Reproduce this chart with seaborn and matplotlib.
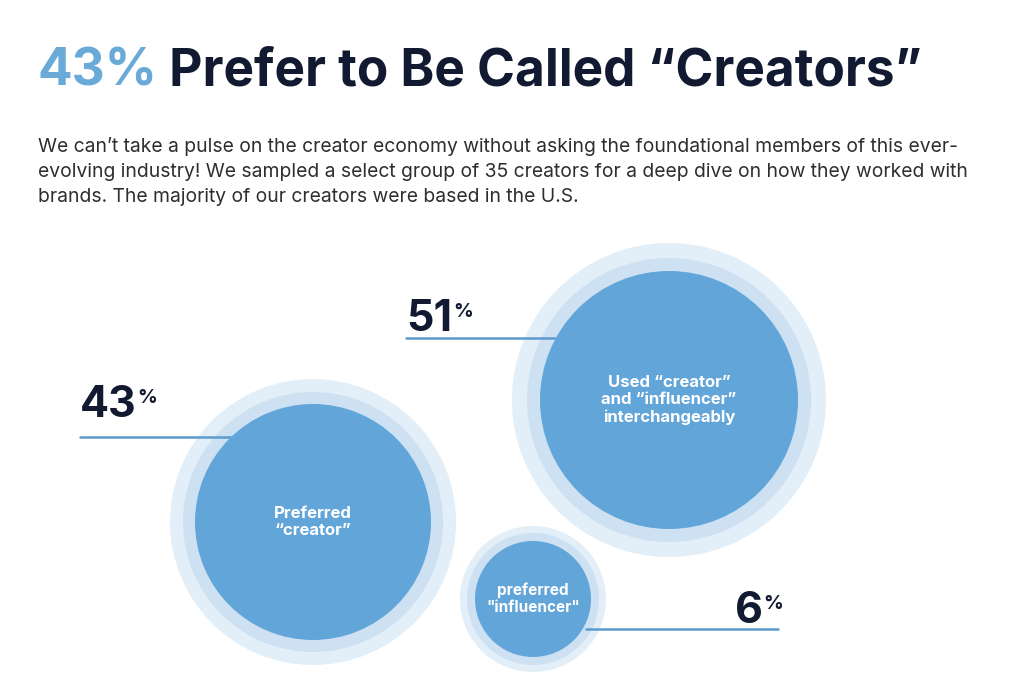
import pandas as pd
import seaborn as sns
import matplotlib.pyplot as plt

# data
labels = ["Preferred\n\u201ccreator\u201d",
          "Used \u201ccreator\u201d\nand \u201cinfluencer\u201d\ninterchangeably",
          "preferred\n\"influencer\""]
values = [43, 51, 6]

# layout (pixel space of the 1014x688 canvas)
bubble_x = [313, 669, 533]
bubble_y = [522, 400, 599]
radius_in = [118, 129, 58]
radius_mid = [130, 142, 66]
radius_out = [143, 157, 73]
num_x = [80, 406, 735]
num_y = [417, 331, 623]
line_y = [437, 338, 629]
line_x0 = [80, 406, 586]
line_x1 = [232, 556, 778]

title_blue = "#6aaad9"
navy = "#121a31"
bubble = "#62a5d9"

sns.set_theme(style="white")
plt.rcParams["font.family"] = ["Inter", "DejaVu Sans"]

fig = plt.figure(figsize=(10.14, 6.88), dpi=100)
ax = fig.add_axes([0, 0, 1, 1])

df = pd.DataFrame({"label": labels, "value": values, "x": bubble_x, "y": bubble_y})


def area(r):
    # radius in pixels -> scatter size in points^2 (dpi 100)
    return (2 * r * 0.72) ** 2


for radii, col, z in [(radius_out, "#e2eef8", 1), (radius_mid, "#cde1f2", 2)]:
    sns.scatterplot(data=df, x="x", y="y", size="label",
                    sizes={l: area(r) for l, r in zip(labels, radii)},
                    color=col, linewidth=0, legend=False, ax=ax, zorder=z)

# connector lines sit over the halos but under the main bubbles
for x0, x1, y in zip(line_x0, line_x1, line_y):
    ax.plot([x0, x1], [y, y], color="#5c9bcd", lw=1.8, zorder=3)

sns.scatterplot(data=df, x="x", y="y", size="label",
                sizes={l: area(r) for l, r in zip(labels, radius_in)},
                color=bubble, linewidth=0, legend=False, ax=ax, zorder=4)
ax.set_xlim(0, 1014)
ax.set_ylim(688, 0)
ax.axis("off")

fsz = [12, 12, 11]
for (lab, x, y), fs in zip(zip(labels, bubble_x, bubble_y), fsz):
    ax.text(x, y, lab, ha="center", va="center", color="white",
            fontsize=fs, fontweight="bold", linespacing=1.15, zorder=5)

# percentage labels
for v, x, y in zip(values, num_x, num_y):
    t = ax.text(x, y, str(v), fontsize=31, fontweight="bold", color=navy,
                ha="left", va="baseline", zorder=5)
    ax.annotate("%", xy=(1, 1), xycoords=t, xytext=(0.5, -3),
                textcoords="offset points", fontsize=14, fontweight="bold",
                color=navy, ha="left", va="top")

# title
t1 = ax.text(37, 86, "43%", fontsize=37, fontweight="bold", color=title_blue,
             ha="left", va="baseline")
ax.annotate(" Prefer to Be Called \u201cCreators\u201d", xy=(1, 0), xycoords=t1,
            fontsize=37, fontweight="bold", color=navy, ha="left", va="bottom")

para = ("We can\u2019t take a pulse on the creator economy without asking the foundational members of this ever-\n"
        "evolving industry! We sampled a select group of 35 creators for a deep dive on how they worked with\n"
        "brands. The majority of our creators were based in the U.S.")
ax.text(38, 137, para, fontsize=13.9, color="#2e2e2e", ha="left",
        va="top", linespacing=1.5)

fig.savefig("out.png", dpi=100)
